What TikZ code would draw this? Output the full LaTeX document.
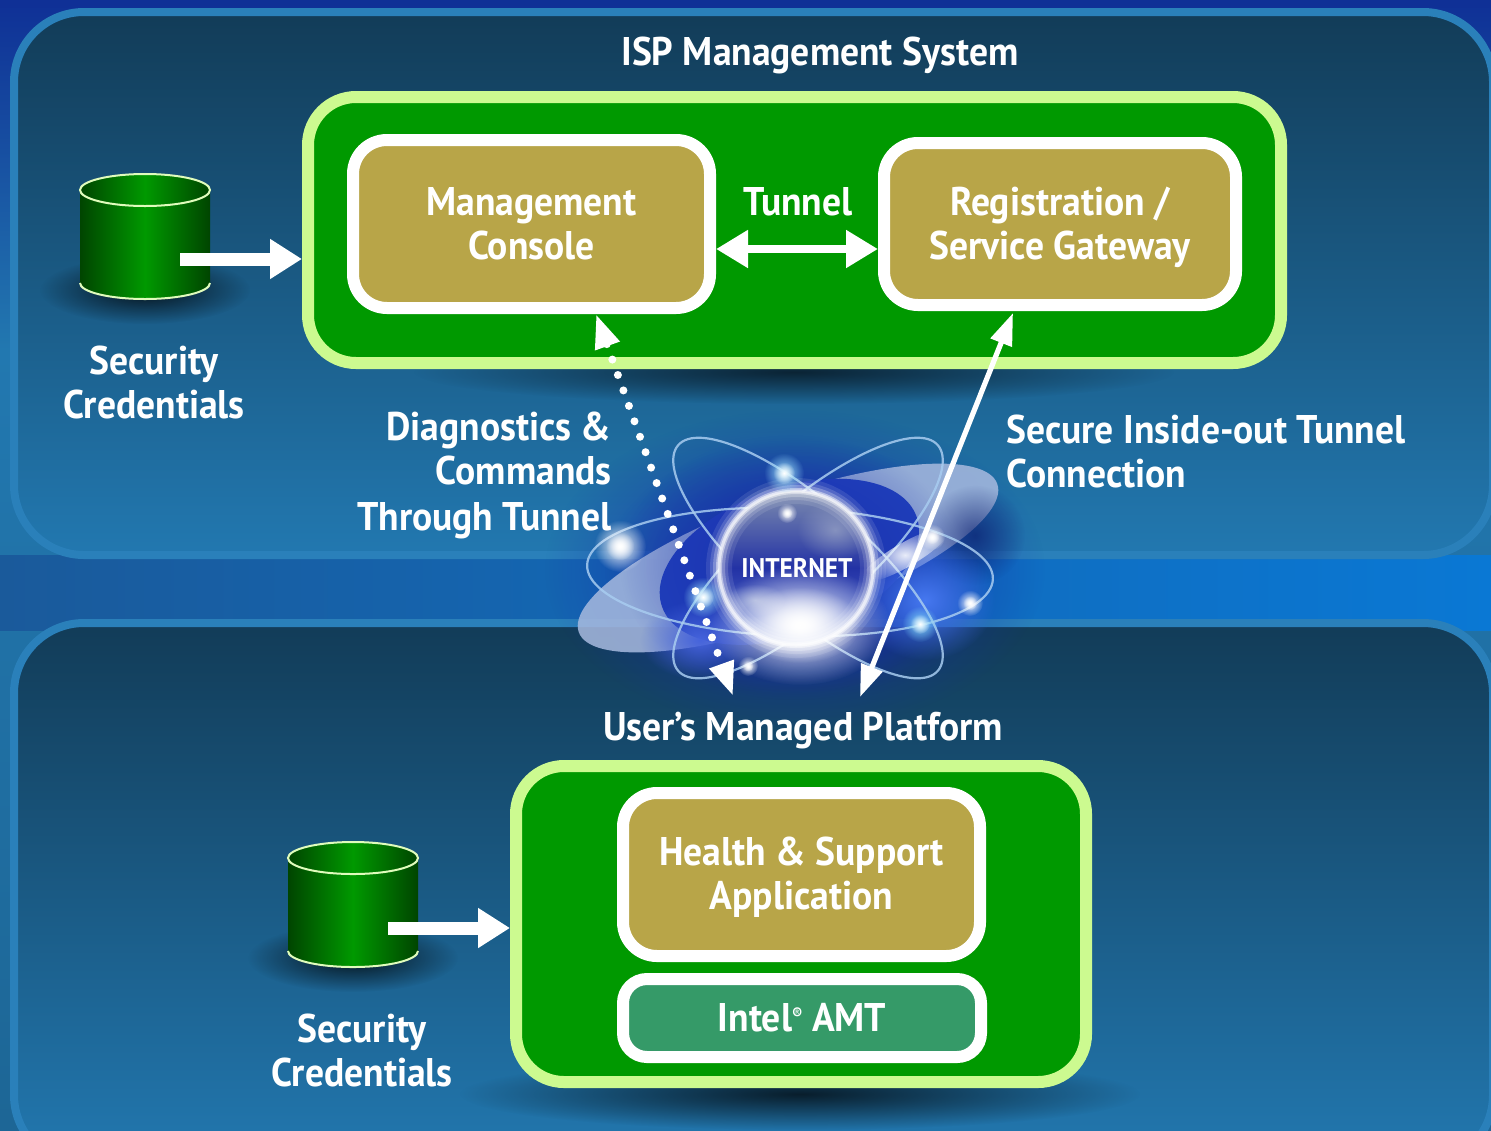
\documentclass[tikz,border=0pt]{standalone}
\usepackage{fontspec}
\setmainfont[FakeStretch=0.94]{PT Sans}
\usetikzlibrary{arrows.meta,fadings,calc}
\definecolor{panelEdge}{HTML}{2A80BA}
\definecolor{panelTop}{HTML}{123C58}
\definecolor{panelBot}{HTML}{2278B0}
\definecolor{lime}{HTML}{CCFA90}
\definecolor{grn}{HTML}{009900}
\definecolor{gold}{HTML}{B8A548}
\definecolor{teal}{HTML}{359A68}
\definecolor{orbit}{HTML}{A8CCF0}
\definecolor{navy}{HTML}{0F3096}
\definecolor{haze}{HTML}{182CAA}
\definecolor{discblue}{HTML}{2040BC}
\definecolor{discgrey}{HTML}{A8BADF}
\definecolor{hazeDark}{RGB}{12,30,110}
\definecolor{brightBlue}{RGB}{70,120,240}
\definecolor{leftBlue}{RGB}{70,100,220}
\definecolor{greyA}{RGB}{170,180,205}
\definecolor{greyB}{RGB}{190,200,225}
\definecolor{globeTop}{RGB}{125,140,175}
\definecolor{globeMid}{RGB}{35,50,165}
\definecolor{globeBot}{RGB}{90,120,215}
\definecolor{bandL}{RGB}{26,90,155}
\definecolor{bandR}{RGB}{10,120,212}
\tikzfading[name=softglow,inner color=transparent!0,outer color=transparent!100]
\tikzset{
  panel/.style={draw=panelEdge,line width=4pt,rounded corners=35pt,top color=panelTop,bottom color=panelBot},
  outerbox/.style={draw=lime,line width=6pt,fill=grn,rounded corners=24pt},
  innerbox/.style={draw=white,line width=6pt,fill=gold,rounded corners=17pt,text=white,align=center,font=\lab},
  lbl/.style={text=white,font=\lab,inner sep=0pt},
  fatarrow/.style={draw=white,line width=6.5pt,-{Triangle[length=16pt,width=19pt,fill=white]}},
  dbl/.style={draw=white,line width=4pt,{Triangle[length=16pt,width=18pt,fill=white]}-{Triangle[length=16pt,width=18pt,fill=white]}},
  thin/.style={draw=white,line width=2.6pt,{Triangle[length=16pt,width=11pt,fill=white]}-{Triangle[length=16pt,width=11pt,fill=white]}},
  dots/.style={draw=white,line width=4pt,line cap=round,dash pattern=on 0pt off 8.2pt,{Triangle[length=17pt,width=12pt,fill=white]}-{Triangle[length=17pt,width=12pt,fill=white]}},
  orbitline/.style={draw=orbit,line width=1.1pt,opacity=.85},
}
\newcommand\lab{\fontsize{20}{22}\selectfont\bfseries}
\newcommand\stA{\rule{0pt}{19pt}}
\newcommand\stB{\rule[-6pt]{0pt}{6pt}}
\newcommand\glowdot[4]{%
  \fill[#4,path fading=softglow] (#1,#2) circle ({#3});
  \fill[white,path fading=softglow] (#1,#2) circle ({#3*.55});}
\newcommand\cyl[2]{%
  \begin{scope}[shift={(#1,#2)}]
    \fill[black,opacity=.8,path fading=softglow] (65,116) ellipse (105 and 34);
    \path[left color=black!55!grn,right color=black!55!grn,middle color=grn]
      (0,16) -- (0,109) arc[start angle=180,end angle=0,x radius=65,y radius=16] -- (130,16) -- cycle;
    \draw[lime!60!white,line width=1pt] (0,109) arc[start angle=180,end angle=0,x radius=65,y radius=16];
    \path[left color=black!55!grn,right color=black!55!grn,middle color=grn,draw=lime!60!white,line width=1pt] (65,16) ellipse (65 and 16);
  \end{scope}}
\begin{document}
\begin{tikzpicture}[x=0.5pt,y=-0.5pt]
\clip (0,0) rectangle (1491,1130);
% background
\shade[top color=navy,bottom color=panelBot] (0,0) rectangle (1491,350);
\shade[top color=panelBot,bottom color=black!15!panelBot] (0,350) rectangle (1491,1130);
\fill[navy] (0,0) rectangle (1491,8);
\shade[left color=bandL,right color=bandR] (0,555) rectangle (1491,630);
% panels
\path[panel] (14,12) rectangle (1493,555);
\path[panel] (14,623) rectangle (1493,1165);
% box shadows
\fill[panelTop!60!black,path fading=softglow] (794,372) ellipse (380 and 32);
\fill[panelTop!50!black,path fading=softglow] (800,1094) ellipse (340 and 36);
% internet emblem
\fill[haze,path fading=softglow] (795,570) ellipse (250 and 160);
\fill[haze,opacity=.9,path fading=softglow] (795,570) ellipse (190 and 130);
\begin{scope}[rotate around={19.5:(788,558)}]
  \fill[discgrey,opacity=.85] (788,558) ellipse (222 and 62);
  \fill[discblue] (788,562) ellipse (135 and 74);
\end{scope}
\fill[haze,opacity=.8,path fading=softglow] (790,565) ellipse (170 and 130);
\fill[hazeDark,opacity=.7,path fading=softglow] (975,535) ellipse (50 and 50);
\fill[brightBlue,path fading=softglow] (925,600) ellipse (70 and 60);
\fill[leftBlue,path fading=softglow] (700,640) ellipse (60 and 40);
\draw[orbitline,rotate around={-2:(790,572)}] (790,572) ellipse (203 and 64);
\draw[orbitline,rotate around={41:(808,558)}] (808,558) ellipse (172 and 55);
\draw[orbitline,rotate around={-41:(808,558)}] (808,558) ellipse (172 and 55);
\shade[top color=globeTop,bottom color=globeBot,middle color=globeMid] (796,568) circle (77);
\fill[greyA,opacity=.6,path fading=softglow] (835,530) ellipse (38 and 30);
\fill[greyB,opacity=.7,path fading=softglow] (755,600) ellipse (30 and 16);
\foreach \w/\o in {13/.10,9/.15,6/.25,3/.45,1.5/.6}{\draw[white,line width=\w pt,opacity=\o] (796,568) circle (77);}
\fill[white,path fading=softglow] (800,625) ellipse (90 and 60);
\fill[white,path fading=softglow] (800,625) ellipse (60 and 38);
\fill[white,opacity=.9,path fading=softglow,rotate around={30:(905,555)}] (905,555) ellipse (50 and 12);
\glowdot{784}{473}{20}{cyan!40!white}
\glowdot{620}{546}{26}{white}
\glowdot{703}{597}{20}{cyan!40!white}
\glowdot{920}{624}{18}{cyan!50!white}
\glowdot{970}{603}{13}{white}
\glowdot{932}{537}{13}{white}
\glowdot{787}{513}{10}{white}
\glowdot{748}{666}{10}{white}
% green containers
\node[outerbox,minimum width=486.5pt,minimum height=133pt] (top) at (794.5,230) {};
\node[outerbox,minimum width=285pt,minimum height=158pt] (low) at (801,924) {};
\node[innerbox,minimum width=178.5pt,minimum height=84pt] (mc) at (531.5,224) {\stA Management\\\stB Console};
\node[innerbox,minimum width=176pt,minimum height=81pt] (rg) at (1060,224) {\stA Registration /\\\stB Service Gateway};
\node[innerbox,minimum width=178.5pt,minimum height=81.5pt] (hs) at (801.5,874.5) {\stA Health \& Support\\\stB Application};
\node[innerbox,fill=teal,rounded corners=12pt,minimum width=179pt,minimum height=39pt] (amt) at (802,1018) {\stA\stB Intel\raisebox{6pt}{\fontsize{8}{8}\selectfont ®} AMT};
% cylinders
\cyl{80}{174}
\cyl{288}{842}
\node[minimum width=65pt,minimum height=62pt,inner sep=0pt] (cylA) at (145,236) {};
\node[minimum width=65pt,minimum height=62pt,inner sep=0pt] (cylB) at (353,904) {};
% connectors
\coordinate (cylAout) at (180,259);
\coordinate (cylBout) at (388,928);
\draw[fatarrow] (cylAout) -- (cylAout -| top.west);
\draw[fatarrow] (cylBout) -- (cylBout -| low.west);
\draw[dbl] (mc.east |- 0,249) -- (rg.west |- 0,249);
\coordinate (dotA) at (596,314);
\coordinate (dotB) at (733,696);
\coordinate (solA) at (1013,313);
\coordinate (solB) at (860,697);
\draw[dots] (dotA) -- (dotB);
\draw[thin] (solA) -- (solB);
% labels
\node[lbl] (title1) at (820,55) {ISP Management System};
\node[lbl] (title2) at (803,731) {User's Managed Platform};
\node[lbl] (tun) at (798,202) {Tunnel};
\node[lbl,align=center] (secA) at (154,382) {Security\\Credentials};
\node[lbl,align=center] (secB) at (362,1050) {Security\\Credentials};
\node[lbl,align=right,anchor=east] (diag) at (612,475) {Diagnostics \&\\Commands\\[1pt]Through Tunnel\hspace{2pt}};
\node[lbl,align=left,anchor=west] (sec) at (1006,451) {Secure Inside-out Tunnel\\Connection};
\node[text=white,inner sep=0pt,font=\fontsize{13.5}{16}\selectfont\bfseries] (inet) at (797,568) {INTERNET};
\end{tikzpicture}
\end{document}
